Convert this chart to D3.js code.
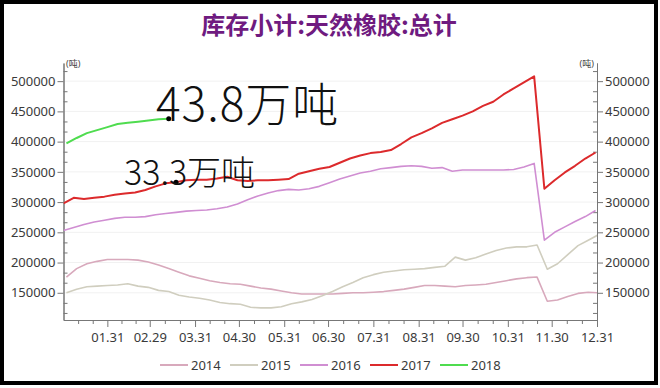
<!DOCTYPE html>
<html>
<head>
<meta charset="utf-8">
<script src="https://cdn.jsdelivr.net/npm/d3@7"></script>
<style>
body { margin: 0; background: #fff; }
text { font-family: "Noto Sans", "Noto Sans CJK SC", sans-serif; }
</style>
</head>
<body>
<script>
// weekly stock of natural rubber, tons
var years = ["2014", "2015", "2016", "2017", "2018"];
var colors = ["#d8a9bc", "#d0cebf", "#d08ed2", "#dc2a2c", "#4fdc4f"];
var widths = [1.6, 1.6, 1.6, 2, 2];
var firstDates = ["01.03", "01.03", "01.01", "01.01", "01.03"];

var v2014 = [176000,190000,198000,202000,205000,205000,205000,204000,201000,196000,
  190000,184000,178000,174000,170000,167000,165000,164000,161000,158000,
  156000,153000,150000,148000,148000,148000,148000,149000,150000,150000,
  151000,152000,154000,156000,159000,162000,162000,161000,160000,162000,
  163000,164000,167000,170000,173000,175000,176000,136000,138000,144000,
  149000,151000,150000];
var v2015 = [150000,156000,160000,161000,162000,163000,165000,161000,159000,154000,
  152000,146000,143000,141000,138000,134000,132000,131000,126000,125000,
  125000,127000,132000,135000,139000,145000,152000,160000,167000,175000,
  180000,184000,186000,188000,189000,190000,192000,194000,209000,204000,
  208000,214000,220000,224000,226000,226000,229000,189000,198000,213000,
  228000,237000,246000];
var v2016 = [253000,258000,263000,267000,270000,273000,275000,275000,276000,279000,
  281000,283000,285000,286000,287000,289000,292000,297000,304000,310000,
  315000,319000,321000,320000,322000,326000,332000,338000,343000,348000,
  351000,355000,357000,359000,360000,359000,356000,357000,351000,353000,
  353000,353000,353000,353000,354000,358000,364000,237000,250000,259000,
  268000,276000,286000];
var v2017 = [298000,307000,305000,307000,309000,312000,314000,316000,320000,326000,
  331000,333000,336000,337000,337000,339000,342000,336000,335000,336000,
  336000,337000,338000,347000,351000,355000,358000,365000,372000,377000,
  381000,383000,386000,396000,407000,414000,422000,431000,437000,443000,
  450000,459000,466000,478000,488000,498000,508000,322000,336000,349000,
  360000,372000,382000];
var v2018 = [397000,406000,414000,419000,424000,429000,431000,433000,435000,437000,438000];

var yTicks = [150000, 200000, 250000, 300000, 350000, 400000, 450000, 500000];
var xTickLabels = ["01.31","02.29","03.31","04.30","05.31","06.30","07.31","08.31","09.30","10.31","11.30","12.31"];
var notes = ["43.8万吨", "33.3万吨"];

var width = 660, height = 388;
var plotL = 63.5, plotR = 597, plotT = 63, plotB = 320;

var svg = d3.select("body").append("svg")
    .attr("width", width)
    .attr("height", height);

svg.append("rect")
    .attr("x", 2).attr("y", 2)
    .attr("width", 654).attr("height", 381)
    .attr("fill", "#fff")
    .attr("stroke", "#000")
    .attr("stroke-width", 4);

var parse = d3.timeParse("%Y.%m.%d");
var x = d3.scaleTime()
    .domain([new Date(2016, 0, 1), new Date(2016, 11, 31)])
    .range([plotL, plotR]);
var y = d3.scaleLinear()
    .domain([105000, 530000])
    .range([plotB, plotT]);

// faint grid
svg.append("g").selectAll("line")
    .data(yTicks)
  .enter().append("line")
    .attr("x1", plotL).attr("x2", plotR)
    .attr("y1", function(d) { return y(d); })
    .attr("y2", function(d) { return y(d); })
    .attr("stroke", "#f1f1f1");

// title
svg.append("text")
    .attr("x", 329).attr("y", 34)
    .attr("text-anchor", "middle")
    .style("font-family", "'Noto Sans CJK SC', sans-serif")
    .style("font-size", "24px")
    .style("font-weight", "bold")
    .attr("fill", "#6f1b80")
    .text("库存小计:天然橡胶:总计");

// y axes
var minorY = d3.range(-2, 23).filter(function(k) { return k % 3 != 0; })
    .map(function(k) { return 150000 + k * 50000 / 3; });

function styleAxis(g) {
  g.selectAll("path, line").attr("stroke", "#777");
  g.selectAll("text").attr("fill", "#3a3a3a").style("font-size", "13px");
}

svg.append("g")
    .attr("transform", "translate(" + plotL + ",0)")
    .call(d3.axisLeft(y).tickValues(yTicks).tickSize(6).tickSizeOuter(0).tickPadding(2).tickFormat(d3.format("d")))
    .call(styleAxis);
svg.append("g")
    .attr("transform", "translate(" + plotL + ",0)")
    .call(d3.axisRight(y).tickValues(minorY).tickSize(4).tickSizeOuter(0).tickFormat(""))
    .call(styleAxis);
svg.append("g")
    .attr("transform", "translate(" + plotR + ",0)")
    .call(d3.axisRight(y).tickValues(yTicks).tickSize(6).tickSizeOuter(0).tickPadding(2).tickFormat(d3.format("d")))
    .call(styleAxis);
svg.append("g")
    .attr("transform", "translate(" + plotR + ",0)")
    .call(d3.axisLeft(y).tickValues(minorY).tickSize(4).tickSizeOuter(0).tickFormat(""))
    .call(styleAxis);

svg.append("text").attr("x", 66).attr("y", 67)
    .style("font-size", "9px").attr("fill", "#444").text("(吨)");
svg.append("text").attr("x", 594).attr("y", 67).attr("text-anchor", "end")
    .style("font-size", "9px").attr("fill", "#444").text("(吨)");

// x axis
var monthEnds = xTickLabels.map(function(s) { return parse("2016." + s); });
var minorX = [];
monthEnds.forEach(function(d, i) {
  var a = i == 0 ? x.domain()[0] : monthEnds[i - 1];
  var step = (d - a) / 3;
  minorX.push(new Date(+a + step), new Date(+a + 2 * step));
});

svg.append("g")
    .attr("transform", "translate(0," + plotB + ")")
    .call(d3.axisBottom(x).tickValues(monthEnds).tickSize(7).tickSizeOuter(0).tickPadding(6).tickFormat(d3.timeFormat("%m.%d")))
    .call(styleAxis);
svg.append("g")
    .attr("transform", "translate(0," + plotB + ")")
    .call(d3.axisBottom(x).tickValues(minorX).tickSize(4).tickSizeOuter(0).tickFormat(""))
    .call(styleAxis);

// series
var values = [v2014, v2015, v2016, v2017, v2018];
var series = years.map(function(yr, i) {
  var start = parse("2016." + firstDates[i]);
  return values[i].map(function(v, k) {
    return { date: d3.timeDay.offset(start, 7 * k), value: v };
  });
});

svg.append("clipPath").attr("id", "plot")
  .append("rect").attr("x", plotL).attr("y", plotT)
    .attr("width", plotR - plotL).attr("height", plotB - plotT);

var line = d3.line()
    .x(function(d) { return x(d.date); })
    .y(function(d) { return y(d.value); });

svg.append("g").attr("clip-path", "url(#plot)")
  .selectAll("path")
    .data(series)
  .enter().append("path")
    .attr("d", line)
    .attr("fill", "none")
    .attr("stroke", function(d, i) { return colors[i]; })
    .attr("stroke-width", function(d, i) { return widths[i]; })
    .attr("stroke-linejoin", "round");

// legend
var legend = svg.append("g").selectAll("g")
    .data(years)
  .enter().append("g")
    .attr("transform", function(d, i) { return "translate(" + (160 + 70 * i) + ",365)"; });
legend.append("line")
    .attr("x1", 0).attr("x2", 28)
    .attr("stroke", function(d, i) { return colors[i]; })
    .attr("stroke-width", 2);
legend.append("text")
    .attr("x", 31).attr("dy", "0.35em")
    .style("font-size", "13px")
    .attr("fill", "#3a3a3a")
    .text(function(d) { return d; });

// handwritten notes
var last2018 = series[4][series[4].length - 1];
var mark2017 = series[3][11];
svg.append("circle").attr("cx", x(last2018.date)).attr("cy", y(last2018.value)).attr("r", 2.5).attr("fill", "#000");
svg.append("circle").attr("cx", x(mark2017.date)).attr("cy", y(mark2017.value)).attr("r", 2.5).attr("fill", "#000");

svg.append("text")
    .attr("x", 156).attr("y", 121)
    .style("font-family", "'Noto Sans CJK SC', sans-serif")
    .style("font-size", "46px")
    .style("font-weight", "300")
    .style("letter-spacing", "1px")
    .attr("fill", "#111")
    .text(notes[0]);
svg.append("text")
    .attr("x", 124).attr("y", 185)
    .style("font-family", "'Noto Sans CJK SC', sans-serif")
    .style("font-size", "34px")
    .style("font-weight", "300")
    .attr("fill", "#111")
    .text(notes[1]);
</script>
</body>
</html>
